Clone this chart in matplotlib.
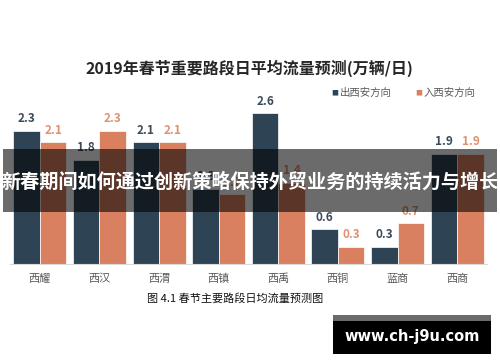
import matplotlib
matplotlib.use("Agg")
import matplotlib.pyplot as plt
from matplotlib.patches import Rectangle
import numpy as np

plt.rcParams['font.family'] = ['Noto Sans CJK SC', 'DejaVu Sans']

categories = ["西耀", "西汉", "西渭", "西镇", "西禹", "西铜", "蓝商", "西商"]
out_vals = [2.3, 1.8, 2.1, 1.3, 2.6, 0.6, 0.3, 1.9]
in_vals = [2.1, 2.3, 2.1, 1.2, 1.4, 0.3, 0.7, 1.9]
series_names = ["出西安方向", "入西安方向"]
title = "2019年春节重要路段日平均流量预测(万辆/日)"
caption = "图 4.1 春节主要路段日均流量预测图"
banner = "新春期间如何通过创新策略保持外贸业务的持续活力与增长"
watermark = "www.ch-j9u.com"

W, H = 500, 362
fig = plt.figure(figsize=(W / 100, H / 100), dpi=100)
fig.patch.set_facecolor("white")

def fx(x):
    return x / W

def fy(y):
    return 1 - y / H

c_dark = "#2E4353"
c_org = "#D98061"
c_dark_lbl = "#3A4A5A"
c_org_lbl = "#E0906F"

ax = fig.add_axes([fx(10), fy(264), fx(487) - fx(10), fy(100) - fy(264)])
x = np.arange(len(categories))
w = 0.445
ax.bar(x - w / 2, out_vals, w, color=c_dark, edgecolor="white", linewidth=0.5)
ax.bar(x + w / 2, in_vals, w, color=c_org, edgecolor="white", linewidth=0.5)
for xi, v in zip(x, out_vals):
    ax.annotate(f"{v}", (xi - w / 2, v), xytext=(0, 4), textcoords="offset points",
                ha="center", va="bottom", fontsize=8.5, fontweight="bold", color=c_dark_lbl)
for xi, v in zip(x, in_vals):
    ax.annotate(f"{v}", (xi + w / 2, v), xytext=(0, 4), textcoords="offset points",
                ha="center", va="bottom", fontsize=8.5, fontweight="bold", color=c_org_lbl)
ax.set_xlim(-0.5, len(categories) - 0.5)
ax.set_ylim(0, 164 / 58)
ax.set_xticks(x)
ax.set_xticklabels(categories, fontsize=8, color="#595959")
ax.tick_params(axis="x", length=0, pad=7)
ax.set_yticks([])
for s in ["top", "right", "left"]:
    ax.spines[s].set_visible(False)
ax.spines["bottom"].set_color("#D9D9D9")
ax.set_facecolor("none")

fig.text(fx(249), fy(68), title, ha="center", va="center", fontsize=11.5, fontweight="bold", color="#262626")

# legend
fig.text(fx(331), fy(93), "■", ha="left", va="center", fontsize=5, color=c_dark)
fig.text(fx(340), fy(93), series_names[0], ha="left", va="center", fontsize=7.5, color="#595959")
fig.text(fx(415), fy(93), "■", ha="left", va="center", fontsize=5, color=c_org)
fig.text(fx(424), fy(93), series_names[1], ha="left", va="center", fontsize=7.5, color="#595959")

fig.text(fx(235), fy(298), caption, ha="center", va="center", fontsize=8, color="#111111")

# banner overlay
fig.add_artist(Rectangle((fx(3), fy(212)), fx(494), (212 - 149) / H, transform=fig.transFigure,
                         facecolor="black", alpha=0.58, edgecolor="none", zorder=10))
fig.text(fx(250), fy(182), banner, ha="center", va="center", fontsize=13.8, fontweight="heavy",
         color="white", zorder=11)

# watermark
fig.add_artist(Rectangle((fx(333), fy(321)), fx(158), 6 / H, transform=fig.transFigure,
                         facecolor="#6B6B6B", edgecolor="none", zorder=10))
fig.add_artist(Rectangle((fx(333), fy(354)), fx(158), 33 / H, transform=fig.transFigure,
                         facecolor="black", edgecolor="none", zorder=10))
fig.text(fx(412), fy(337), watermark, ha="center", va="center", fontsize=10.5, fontweight="bold",
         color="white", family=["DejaVu Sans"], zorder=11)

fig.savefig("out.png", dpi=100, facecolor="white")
